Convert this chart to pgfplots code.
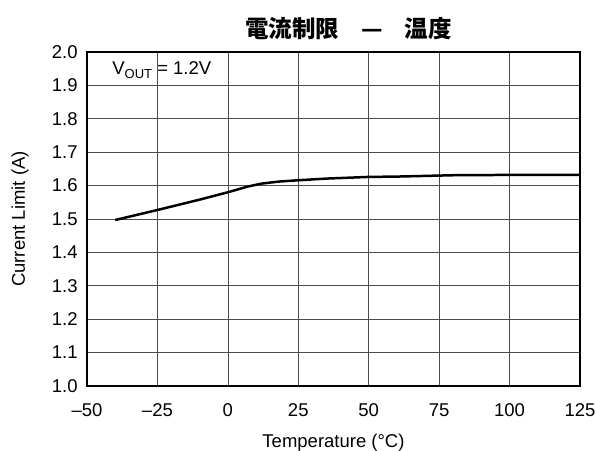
\documentclass[border=0pt]{standalone}
\usepackage{fontspec}
\setmainfont{Liberation Sans}
\newfontfamily\cjk{Noto Sans CJK JP}
\usepackage{pgfplots}
\pgfplotsset{compat=1.18}
\begin{document}
\fontsize{18.5bp}{22bp}\selectfont
\begin{tikzpicture}
\useasboundingbox (-87bp,-65bp) rectangle (508bp,386bp);
\begin{axis}[
  scale only axis,
  width=493bp, height=334bp,
  xmin=-50, xmax=125, ymin=1.0, ymax=2.0,
  xtick={-50,-25,0,25,50,75,100,125},
  xticklabels={–50,–25,0,25,50,75,100,125},
  ytick={1.0,1.1,1.2,1.3,1.4,1.5,1.6,1.7,1.8,1.9,2.0},
  yticklabels={1.0,1.1,1.2,1.3,1.4,1.5,1.6,1.7,1.8,1.9,2.0},
  grid=major,
  major grid style={black!70, line width=0.7pt},
  axis line style={line width=1.7pt},
  tick style={draw=none},
  tick label style={font=\fontsize{18.5bp}{22bp}\selectfont},
  xticklabel style={yshift=-11bp},
  yticklabel style={xshift=-3bp},
  label style={font=\fontsize{18.5bp}{22bp}\selectfont},
  xlabel={Temperature (°C)},
  xlabel style={at={(axis description cs:0.5,0)}, anchor=center, yshift=-57bp},
  ylabel={Current Limit (A)},
  ylabel style={at={(axis description cs:-0.1055,0.5)}, anchor=south},
  title={\cjk\bfseries 電流制限\hspace{22bp}—\hspace{22bp}温度},
  title style={font=\fontsize{23.5bp}{27bp}\selectfont, at={(axis description cs:0.5,1)}, anchor=center, yshift=17bp, xshift=15bp},
  clip=false,
]
\addplot[black, line width=2.5pt] coordinates {
(-40,1.497) (-25,1.527) (-10,1.558) (0,1.580) (7,1.597) (12,1.606) (18,1.612) (25,1.616) (35,1.621) (50,1.626) (60,1.627) (70,1.629) (80,1.631) (100,1.632) (125,1.632)
};
\node[anchor=west, font=\fontsize{18.5bp}{22bp}\selectfont, xshift=19bp, yshift=-18bp] at (axis description cs:0,1) {V\raisebox{-4bp}{\fontsize{13bp}{15bp}\selectfont OUT} = 1.2V};
\end{axis}
\end{tikzpicture}
\end{document}
